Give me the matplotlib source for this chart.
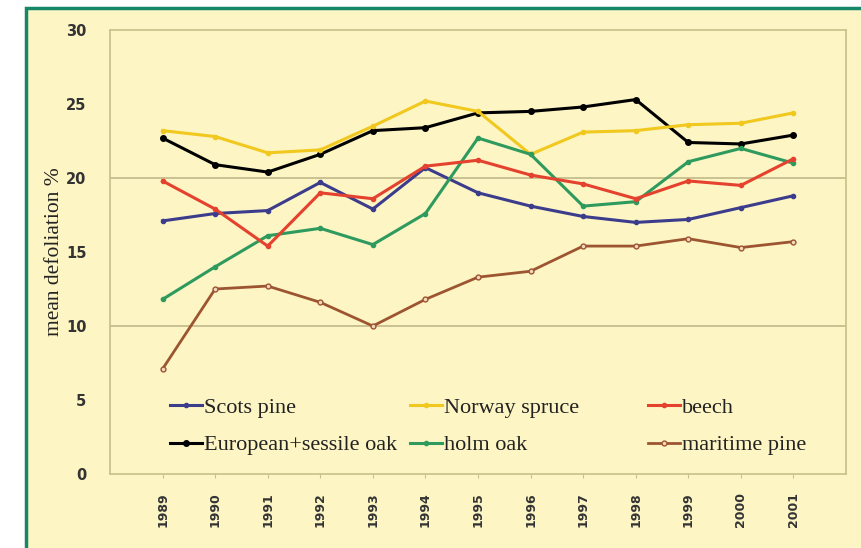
import numpy as np
import matplotlib.pyplot as plt
from matplotlib.patches import Rectangle
from matplotlib.legend import Legend

years = list(range(1989, 2002))

scots_pine = [17.1, 17.6, 17.8, 19.7, 17.9, 20.7, 19.0, 18.1, 17.4, 17.0, 17.2, 18.0, 18.8]
norway_spruce = [23.2, 22.8, 21.7, 21.9, 23.5, 25.2, 24.5, 21.6, 23.1, 23.2, 23.6, 23.7, 24.4]
beech = [19.8, 17.9, 15.4, 19.0, 18.6, 20.8, 21.2, 20.2, 19.6, 18.6, 19.8, 19.5, 21.3]
oak = [22.7, 20.9, 20.4, 21.6, 23.2, 23.4, 24.4, 24.5, 24.8, 25.3, 22.4, 22.3, 22.9]
holm_oak = [11.8, 14.0, 16.1, 16.6, 15.5, 17.6, 22.7, 21.6, 18.1, 18.4, 21.1, 22.0, 21.0]
maritime_pine = [7.1, 12.5, 12.7, 11.6, 10.0, 11.8, 13.3, 13.7, 15.4, 15.4, 15.9, 15.3, 15.7]

bg = '#fdf5c4'

def main():
    fig = plt.figure(figsize=(8.62, 5.48), dpi=100)
    fig.patch.set_facecolor('white')
    # cream panel with green frame
    fig.patches.append(Rectangle((26/862, -0.01), 1.0, 1 - 8/548 + 0.01,
                                 transform=fig.transFigure, facecolor=bg,
                                 edgecolor='#17876a', linewidth=2.5, zorder=-10))

    ax = fig.add_axes([110/862, 1 - 474/548, (846 - 110)/862, (474 - 30)/548])
    ax.set_facecolor(bg)

    l1, = ax.plot(years, scots_pine, color='#3c3c8c', lw=2.2, marker='o', ms=3, label='Scots pine')
    l2, = ax.plot(years, oak, color='black', lw=2.2, marker='o', ms=4, label='European+sessile oak')
    l3, = ax.plot(years, norway_spruce, color='#f0c81e', lw=2.2, marker='o', ms=3, label='Norway spruce')
    l4, = ax.plot(years, holm_oak, color='#2e9a5e', lw=2.2, marker='o', ms=3, label='holm oak')
    l5, = ax.plot(years, beech, color='#e4412e', lw=2.2, marker='o', ms=3, label='beech')
    l6, = ax.plot(years, maritime_pine, color='#9c5530', lw=2.0, marker='o', ms=3.5,
                  mfc='#f4d9c0', label='maritime pine')

    ax.set_xlim(1988, 2002)
    ax.set_ylim(0, 30)
    ax.set_yticks([0, 5, 10, 15, 20, 25, 30])
    ax.set_xticks(years)
    ax.set_xticklabels([str(y) for y in years], rotation=90)
    for lab in ax.get_yticklabels():
        lab.set_fontweight('bold')
        lab.set_fontsize(10.5)
        lab.set_color('#333333')
    for lab in ax.get_xticklabels():
        lab.set_fontweight('bold')
        lab.set_fontsize(9)
        lab.set_color('#333333')
    ax.tick_params(axis='y', length=0, pad=17)
    ax.tick_params(axis='x', length=3, color='#c8c08a', pad=10)

    for y in [10, 20]:
        ax.axhline(y, color='#c0b888', lw=1.2, zorder=0)
    for s in ax.spines.values():
        s.set_color('#c8c08a')
        s.set_linewidth(1.2)

    ax.set_ylabel('mean defoliation %', family='Liberation Serif', fontsize=15.5, color='#222222')
    ax.yaxis.set_label_coords(-0.063, 0.5)

    # three single-column legends so the columns sit where they do in the original
    cols = [([l1, l2], 0.0815), ([l3, l4], 0.4076), ([l5, l6], 0.731)]
    for hs, x in cols:
        leg = Legend(ax, hs, [h.get_label() for h in hs], loc='center left',
                     bbox_to_anchor=(x, 0.107), frameon=False, borderpad=0,
                     borderaxespad=0, prop={'family': 'Liberation Serif', 'size': 16},
                     handlelength=1.45, handletextpad=0.1, labelspacing=0.75,
                     labelcolor='#222222')
        ax.add_artist(leg)

    fig.savefig('out.png', dpi=100, facecolor=fig.get_facecolor())

if __name__ == "__main__":
    main()
